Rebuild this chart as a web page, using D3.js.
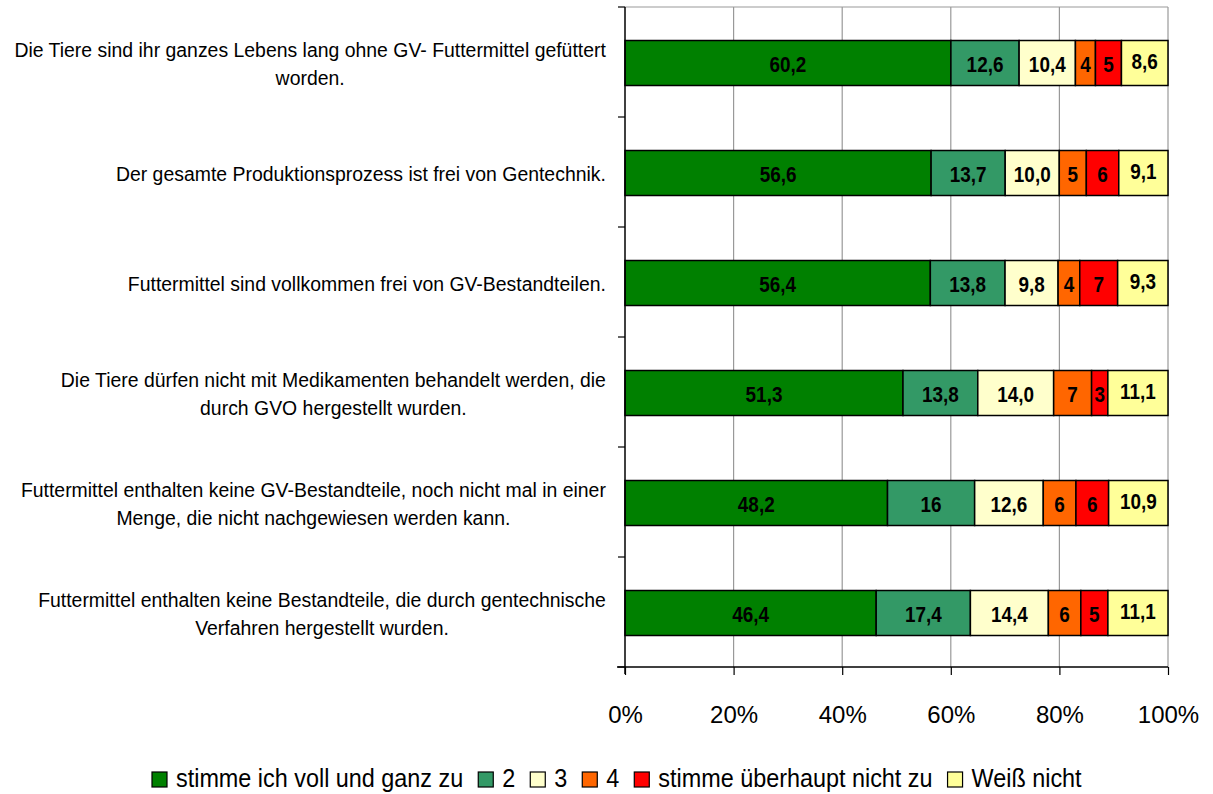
<html>
<head>
  <script src="https://d3js.org/d3.v7.min.js"></script>
  <style>
  body { margin: 0; background: #fff; }
  svg { display: block; }
  text { font-family: "Liberation Sans", Arial, sans-serif; fill: #000; }
  .axis-x text { font-size: 24px; }
  </style>
</head>
<body>
  <svg id="chart" width="1213" height="794"></svg>
  <script>

// statements (each entry = lines of the label)
var statements = [
  ["Die Tiere sind ihr ganzes Lebens lang ohne GV- Futtermittel gefüttert", "worden."],
  ["Der gesamte Produktionsprozess ist frei von Gentechnik."],
  ["Futtermittel sind vollkommen frei von GV-Bestandteilen."],
  ["Die Tiere dürfen nicht mit Medikamenten behandelt werden, die", "durch GVO hergestellt wurden."],
  ["Futtermittel enthalten keine GV-Bestandteile, noch nicht mal in einer", "Menge, die nicht nachgewiesen werden kann."],
  ["Futtermittel enthalten keine Bestandteile, die durch gentechnische", "Verfahren hergestellt wurden."]
];
var seriesNames = ["stimme ich voll und ganz zu", "2", "3", "4", "stimme überhaupt nicht zu", "Weiß nicht"];
var seriesColors = ["#008000", "#339966", "#ffffcc", "#ff6600", "#ff0000", "#ffff99"];

// values per series, one per statement
var voll     = [60.2, 56.6, 56.4, 51.3, 48.2, 46.4];
var zwei     = [12.6, 13.7, 13.8, 13.8, 16.0, 17.4];
var drei     = [10.4, 10.0, 9.8, 14.0, 12.6, 14.4];
var vier     = [3.7, 5.0, 4.0, 7.0, 6.0, 6.0];
var garnicht = [4.8, 6.0, 7.0, 3.0, 6.0, 5.0];
var weiss    = [8.6, 9.1, 9.3, 11.1, 10.9, 11.1];

// labels printed in the bars
var labels = [
  ["60,2", "12,6", "10,4", "4", "5", "8,6"],
  ["56,6", "13,7", "10,0", "5", "6", "9,1"],
  ["56,4", "13,8", "9,8", "4", "7", "9,3"],
  ["51,3", "13,8", "14,0", "7", "3", "11,1"],
  ["48,2", "16", "12,6", "6", "6", "10,9"],
  ["46,4", "17,4", "14,4", "6", "5", "11,1"]
];
var xTicks = [0, 0.2, 0.4, 0.6, 0.8, 1];

var allSeries = [voll, zwei, drei, vier, garnicht, weiss];
var rows = statements.map(function(s, i) {
  var r = {index: i};
  allSeries.forEach(function(arr, k) { r["s" + k] = arr[i]; });
  return r;
});
var keys = allSeries.map(function(a, k) { return "s" + k; });

// text squeezed horizontally (no Arial Narrow here), anchored at (px,py)
function narrowText(parent, px, py, str, size, sx, anchor, weight) {
  return parent.append("text")
    .attr("transform", "translate(" + px + "," + py + ") scale(" + sx + ",1)")
    .attr("font-size", size + "px")
    .attr("font-weight", weight || "normal")
    .attr("text-anchor", anchor || "start")
    .text(str);
}

var svg = d3.select("#chart");
var plotL = 625, plotR = 1168, plotT = 7, plotB = 667;

var x = d3.scaleLinear().domain([0, 1]).range([plotL, plotR]);
var yOuter = d3.scaleBand().domain(d3.range(statements.length)).range([plotT, plotB]);
var barH = 45;
function barY(i) { return yOuter(i) + (yOuter.bandwidth() - barH) / 2 + 1; }

var stacked = d3.stack().keys(keys).offset(d3.stackOffsetExpand)(rows);

// gridlines
svg.append("g")
  .selectAll("line")
  .data(xTicks.slice(1))
  .enter().append("line")
    .attr("x1", function(d) { return x(d); })
    .attr("x2", function(d) { return x(d); })
    .attr("y1", plotT)
    .attr("y2", plotB)
    .attr("stroke", "#999")
    .attr("stroke-width", 1.2);

// plot area top border
svg.append("line")
  .attr("x1", plotL).attr("x2", plotR)
  .attr("y1", plotT).attr("y2", plotT)
  .attr("stroke", "#999").attr("stroke-width", 1.2);

// bars
var layer = svg.append("g")
  .selectAll("g")
  .data(stacked)
  .enter().append("g")
    .attr("fill", function(d, k) { return seriesColors[k]; });

layer.selectAll("rect")
  .data(function(d) { return d; })
  .enter().append("rect")
    .attr("x", function(d) { return x(d[0]); })
    .attr("width", function(d) { return x(d[1]) - x(d[0]); })
    .attr("y", function(d, i) { return barY(i); })
    .attr("height", barH)
    .attr("stroke", "#000")
    .attr("stroke-width", 1.5);

var labelG = svg.append("g");
stacked.forEach(function(s, k) {
  s.forEach(function(d, i) {
    narrowText(labelG, (x(d[0]) + x(d[1])) / 2, barY(i) + barH / 2 + (k == 5 ? 6 : 8.5),
      labels[i][k], 22, 0.86, "middle", "bold");
  });
});

// y axis
svg.append("line")
  .attr("x1", plotL).attr("x2", plotL)
  .attr("y1", plotT).attr("y2", plotB + 7)
  .attr("stroke", "#000").attr("stroke-width", 1.5);
svg.append("g")
  .selectAll("line")
  .data(d3.range(statements.length + 1))
  .enter().append("line")
    .attr("x1", plotL - 7).attr("x2", plotL)
    .attr("y1", function(d) { return plotT + d * yOuter.step(); })
    .attr("y2", function(d) { return plotT + d * yOuter.step(); })
    .attr("stroke", "#000").attr("stroke-width", 1.2);

// x axis
var xAxis = svg.append("g")
  .attr("class", "axis-x")
  .attr("transform", "translate(0," + plotB + ")")
  .call(d3.axisBottom(x).tickValues(xTicks).tickFormat(d3.format(".0%")).tickSize(8).tickPadding(31).tickSizeOuter(0));
xAxis.select(".domain").attr("d", "M" + (plotL - 8) + ",0H" + plotR).attr("stroke", "#000").attr("stroke-width", 1.5);
xAxis.selectAll(".tick line").attr("stroke", "#000").attr("stroke-width", 1.2);
xAxis.selectAll(".tick text").attr("font-family", null).attr("font-size", null);

// category labels: centered lines, block right-aligned at 606
var catSize = 21, catSx = 0.925;
var catG = svg.append("g");
statements.forEach(function(lines, i) {
  var cy = barY(i) + barH / 2;
  var lh = 28;
  var widths = lines.map(function(line) {
    var t = catG.append("text").attr("font-size", catSize + "px").text(line);
    var w = t.node().getComputedTextLength() * catSx;
    t.remove();
    return w;
  });
  var maxW = d3.max(widths);
  lines.forEach(function(line, j) {
    narrowText(catG, 606 - maxW / 2, cy + (j - (lines.length - 1) / 2) * lh + 7.5, line, catSize, catSx, "middle");
  });
});

// legend
var legSx = 0.9;
var legend = svg.append("g").attr("transform", "translate(152,787)");
var lx = 0;
seriesNames.forEach(function(name, k) {
  legend.append("rect")
    .attr("x", lx).attr("y", -15)
    .attr("width", 15).attr("height", 15)
    .attr("fill", seriesColors[k])
    .attr("stroke", "#000").attr("stroke-width", 1.2);
  var t = narrowText(legend, lx + 24, 0, name, 26, legSx);
  lx += 24 + t.node().getComputedTextLength() * legSx + 15;
});

  </script>
</body>
</html>
